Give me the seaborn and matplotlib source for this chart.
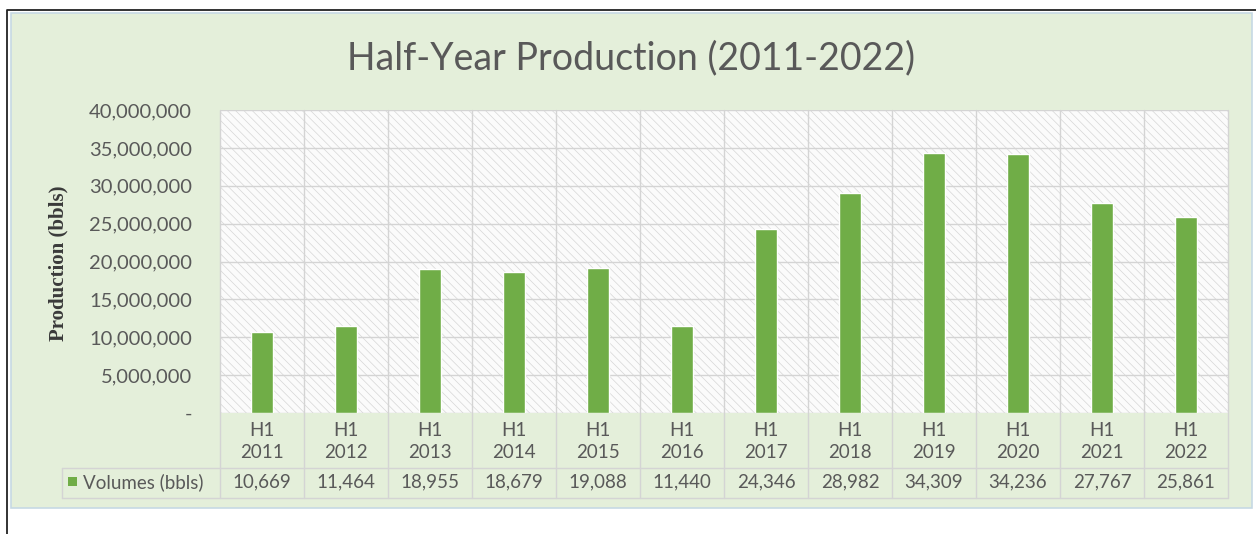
import matplotlib
matplotlib.use('Agg')
import matplotlib.pyplot as plt
import seaborn as sns
import pandas as pd
from matplotlib.patches import Rectangle
from matplotlib.lines import Line2D
from matplotlib.ticker import FuncFormatter, MultipleLocator
from matplotlib.transforms import blended_transform_factory

# ---------------- data ----------------
halves = ['H1'] * 12
years = ['2011', '2012', '2013', '2014', '2015', '2016',
         '2017', '2018', '2019', '2020', '2021', '2022']
volumes = [10669000, 11464000, 18955000, 18679000, 19088000, 11440000,
           24346000, 28982000, 34309000, 34236000, 27767000, 25861000]
series_name = 'Volumes (bbls)'
title = 'Half-Year Production (2011-2022)'
ylabel = 'Production (bbls)'

df = pd.DataFrame({'period': [f'{h} {y}' for h, y in zip(halves, years)],
                   'volume': volumes})

# ---------------- style ----------------
sns.set_theme(style='white')
plt.rcParams['font.family'] = ['Lato', 'DejaVu Sans']
plt.rcParams['hatch.linewidth'] = 0.5

BAR = '#70AD47'
TXT = '#595959'
GRID = '#D4D4D4'
BG = '#E4EFDA'

W, H = 1256, 534
fig = plt.figure(figsize=(W / 100, H / 100), dpi=100)
fig.patch.set_facecolor('white')


def fx(x):
    return x / W


def fy(y):
    return 1 - y / H


# chart area background and outer frame
fig.add_artist(Rectangle((fx(11), fy(508)), fx(1252) - fx(11), fy(13) - fy(508),
                         transform=fig.transFigure, facecolor=BG,
                         edgecolor='#C6D9E4', lw=1.2, zorder=-2))
fig.add_artist(Line2D([fx(7), fx(7), 1.0], [0.0, fy(10), fy(10)],
                      transform=fig.transFigure, color='#222222', lw=1.3, zorder=-1))

# plot area
ax = fig.add_axes([fx(220), fy(413), fx(1228) - fx(220), fy(110) - fy(413)])
ax.set_facecolor('#FBFBFB')
ax.add_patch(Rectangle((0, 0), 1, 1, transform=ax.transAxes, facecolor='none',
                       edgecolor='#D6D6D6', hatch='\\\\\\\\', lw=0, zorder=0.1))

sns.barplot(data=df, x='period', y='volume', color=BAR, width=0.26,
            saturation=1, ax=ax, zorder=3)

n = len(years)
ax.set_xlim(-0.5, n - 0.5)
ax.set_ylim(0, 40000000)
ax.yaxis.set_major_locator(MultipleLocator(5000000))
ax.yaxis.set_major_formatter(FuncFormatter(lambda v, p: '-' if v == 0 else f'{v:,.0f}'))
ax.grid(axis='y', color=GRID, lw=1.0, zorder=1)
ax.set_axisbelow(True)
ax.tick_params(axis='y', length=0, pad=20, labelsize=14.5, labelcolor=TXT)
ax.set_xticks([])
ax.set_xlabel('')
ax.set_ylabel('')
for s in ax.spines.values():
    s.set_visible(False)

# vertical category boundaries extending into the data table
btrans = blended_transform_factory(ax.transData, ax.transAxes)
table_bottom = (413 - 498) / 303
for b in range(n + 1):
    ax.plot([b - 0.5, b - 0.5], [1, table_bottom], transform=btrans,
            color=GRID, lw=1.0, clip_on=False, zorder=1)

# table horizontal lines
for yy in (468, 498):
    fig.add_artist(Line2D([fx(62), fx(1228)], [fy(yy), fy(yy)],
                          transform=fig.transFigure, color=GRID, lw=1.0))
fig.add_artist(Line2D([fx(62), fx(62)], [fy(468), fy(498)],
                      transform=fig.transFigure, color=GRID, lw=1.0))

# table texts
y_h = (413 - 430) / 303
y_y = (413 - 452) / 303
y_v = (413 - 482) / 303
TFS = 13.5
for i, (h, yr, v) in enumerate(zip(halves, years, volumes)):
    ax.text(i, y_h, h, transform=btrans, ha='center', va='center',
            fontsize=TFS, color=TXT, clip_on=False)
    ax.text(i, y_y, yr, transform=btrans, ha='center', va='center',
            fontsize=TFS, color=TXT, clip_on=False)
    ax.text(i, y_v, f'{v / 1000:,.0f}', transform=btrans, ha='center',
            va='center', fontsize=TFS, color=TXT, clip_on=False)

# legend key in table
fig.add_artist(Rectangle((fx(68), fy(486)), fx(9) - fx(0), fy(0) - fy(9),
                         transform=fig.transFigure, facecolor=BAR, lw=0))
fig.text(fx(83), fy(482), series_name, ha='left', va='center',
         fontsize=TFS, color=TXT)

# title and axis label
fig.text(fx(631), fy(58), title, ha='center', va='center',
         fontsize=27, color=TXT)
fig.text(fx(58), fy(263), ylabel, ha='center', va='center', rotation=90,
         fontsize=15, fontweight='bold', color='#3A3A3A',
         family=['Liberation Serif', 'DejaVu Serif'])

fig.savefig('out.png', dpi=100, facecolor=fig.get_facecolor())
